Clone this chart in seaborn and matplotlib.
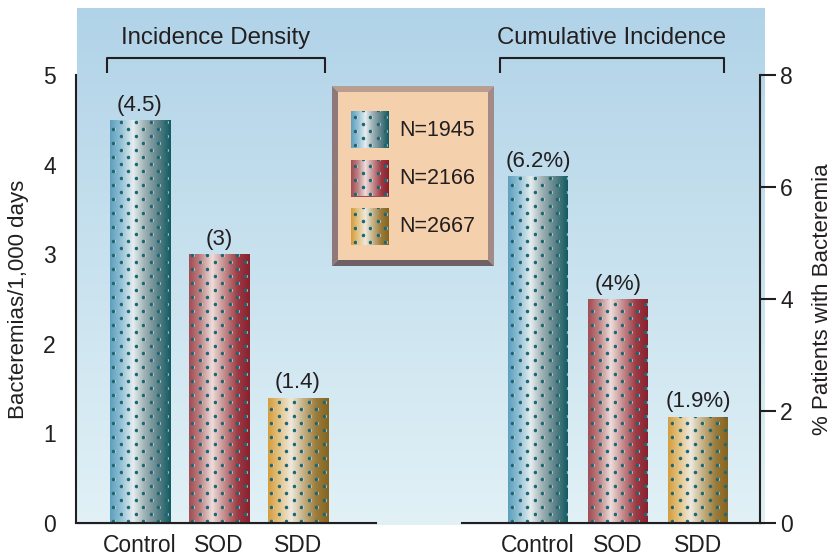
import numpy as np
import pandas as pd
import matplotlib
matplotlib.use("Agg")
import matplotlib.pyplot as plt
import seaborn as sns
from matplotlib.colors import LinearSegmentedColormap
from matplotlib.patches import Rectangle, Polygon
from matplotlib.transforms import blended_transform_factory

# ---- data ----
groups = ["Control", "SOD", "SDD"]
density = [4.5, 3.0, 1.4]
density_labels = ["(4.5)", "(3)", "(1.4)"]
cumulative = [6.2, 4.0, 1.9]
cumulative_labels = ["(6.2%)", "(4%)", "(1.9%)"]
cohort_sizes = ["N=1945", "N=2166", "N=2667"]
density_ticks = [0, 1, 2, 3, 4, 5]
cumulative_ticks = [0, 2, 4, 6, 8]

W, H, DPI = 832, 559, 100
INK = "#231f20"

sns.set_theme(style="white")
plt.rcParams["font.family"] = ["Liberation Sans", "DejaVu Sans"]
plt.rcParams["text.color"] = INK
plt.rcParams["axes.labelcolor"] = INK
plt.rcParams["xtick.color"] = INK
plt.rcParams["ytick.color"] = INK

# cylinder-style shading for each group
shades = {
    "Control": ["#5d9ebd", "#8fbed3", "#e4edf0", "#a3b4b7", "#587f86", "#125a61"],
    "SOD": ["#a34b52", "#bb7e80", "#eddcda", "#c99495", "#9d3b45", "#86202d"],
    "SDD": ["#d69c3b", "#e3c07d", "#eee9dd", "#c9b68d", "#9b7b3a", "#856420"],
}
stops = [0.0, 0.17, 0.38, 0.56, 0.8, 1.0]
cmaps = {g: LinearSegmentedColormap.from_list(g, list(zip(stops, c))) for g, c in shades.items()}
base_colors = {g: c[0] for g, c in shades.items()}
DOT = "#1b6670"


def px_rect(x0, y0, x1, y1):
    """Pixel box (origin top-left) -> figure fraction rect."""
    return [x0 / W, 1 - y1 / H, (x1 - x0) / W, (y1 - y0) / H]


def dress(ax, patch, cmap):
    """Fill a rectangle with a horizontal cylinder gradient and a dot lattice."""
    x0, y0 = patch.get_x(), patch.get_y()
    w, h = patch.get_width(), patch.get_height()
    z = patch.get_zorder()
    im = ax.imshow(np.linspace(0, 1, 256).reshape(1, -1), cmap=cmap, aspect="auto",
                   extent=[x0, x0 + w, y0, y0 + h], interpolation="nearest", zorder=z + 0.1)
    im.set_clip_path(patch)
    (ax0, ay0), (ax1_, ay1) = ax.transData.transform([[x0, y0], [x0 + w, y0 + h]])
    xmin, xmax = sorted([ax0, ax1_])
    ymin, ymax = sorted([ay0, ay1])
    # lattice anchored to whole pixels so every dot rasterises identically
    xmin, ymin = np.floor(xmin), np.floor(ymin)
    pts = []
    row = 0
    y = ymin + 3.2
    while y < ymax + 4:
        x = xmin + (4.2 if row % 2 == 0 else 11.7)
        while x < xmax + 4:
            pts.append((x, y))
            x += 15
        y += 7
        row += 1
    pts = np.array(pts)
    inv = ax.transData.inverted()
    hl = inv.transform(pts + np.array([0.8, -0.5]))
    dp = inv.transform(pts)
    s1 = ax.scatter(hl[:, 0], hl[:, 1], s=5.0, color="#eef3f3", alpha=0.8,
                    linewidths=0, zorder=z + 0.2)
    s2 = ax.scatter(dp[:, 0], dp[:, 1], s=6.5, color=DOT, linewidths=0, zorder=z + 0.3)
    for s in (s1, s2):
        s.set_clip_path(patch)
        s.set_snap(False)


fig = plt.figure(figsize=(W / DPI, H / DPI), dpi=DPI)
fig.patch.set_facecolor("white")

# sky gradient panel
bg = fig.add_axes(px_rect(77, 8, 765, 525), zorder=0)
bg.imshow(np.linspace(0, 1, 256).reshape(-1, 1), aspect="auto", origin="upper",
          cmap=LinearSegmentedColormap.from_list("sky", ["#b1d3e8", "#e1f1f6"]),
          extent=[0, 1, 0, 1])
bg.axis("off")

ax1 = fig.add_axes(px_rect(76, 75, 376, 523), zorder=2)
ax2 = fig.add_axes(px_rect(462, 75, 760, 523), zorder=2)

panels = [
    (ax1, density, density_labels, density_ticks, 0.76, (-0.81, 2.987), (0, 5),
     "Incidence Density", (-0.42, 2.34)),
    (ax2, cumulative, cumulative_labels, cumulative_ticks, 0.75, (-0.95, 2.775), (0, 8),
     "Cumulative Incidence", (-0.475, 2.325)),
]

for ax, vals, labs, ticks, width, xlim, ylim, title, span in panels:
    df = pd.DataFrame({"group": groups, "value": vals})
    sns.barplot(data=df, x="group", y="value", hue="group", palette=base_colors,
                width=width, saturation=1, legend=False, ax=ax)
    ax.set_xlim(*xlim)
    ax.set_ylim(*ylim)
    ax.set_autoscale_on(False)
    ax.patch.set_alpha(0)
    ax.set_xlabel("")
    ax.set_yticks(ticks)
    ax.tick_params(axis="y", length=11.5, width=1.5, direction="out", labelsize=16.5, pad=3)
    ax.tick_params(axis="x", length=0, labelsize=16.5, pad=8)
    for s in ax.spines.values():
        s.set_linewidth(1.5)
        s.set_color(INK)
    ax.spines["top"].set_visible(False)

    bars = ax.patches[:len(groups)]
    for g, p, lab in zip(groups, bars, labs):
        p.set_linewidth(0)
        dress(ax, p, cmaps[g])
        ax.annotate(lab, (p.get_x() + p.get_width() / 2, p.get_height()),
                    xytext=(0, 3), textcoords="offset points",
                    ha="center", va="bottom", fontsize=16, color=INK)

    # group bracket with heading
    tr = blended_transform_factory(ax.transData, ax.transAxes)
    ax.plot([span[0], span[0], span[1], span[1]], [1.0045, 1.038, 1.038, 1.0045],
            color=INK, lw=1.5, transform=tr, clip_on=False, solid_capstyle="butt")
    ax.text((span[0] + span[1]) / 2, 1.082, title, transform=tr, ha="center",
            va="center", fontsize=17.3, color=INK)

ax1.spines["right"].set_visible(False)
ax1.set_ylabel("Bacteremias/1,000 days", fontsize=16, labelpad=10)
ax2.spines["left"].set_visible(False)
ax2.yaxis.tick_right()
ax2.yaxis.set_label_position("right")
ax2.set_ylabel("% Patients with Bacteremia", fontsize=16, labelpad=14)

# legend plaque with bevelled frame
lg = fig.add_axes(px_rect(332, 86, 494, 266), zorder=5)
lg.set_xlim(0, 162)
lg.set_ylim(180, 0)
lg.set_autoscale_on(False)
lg.axis("off")
b = 6
Wl, Hl = 162, 180
lg.add_patch(Polygon([[0, 0], [Wl, 0], [Wl - b, b], [b, b]], closed=True, fc="#b89e90", lw=0))
lg.add_patch(Polygon([[0, 0], [b, b], [b, Hl - b], [0, Hl]], closed=True, fc="#8e7879", lw=0))
lg.add_patch(Polygon([[Wl, 0], [Wl, Hl], [Wl - b, Hl - b], [Wl - b, b]], closed=True, fc="#a38a86", lw=0))
lg.add_patch(Polygon([[0, Hl], [b, Hl - b], [Wl - b, Hl - b], [Wl, Hl]], closed=True, fc="#6e6064", lw=0))
lg.add_patch(Rectangle((b, b), Wl - 2 * b, Hl - 2 * b, fc="#f5d0ac", lw=0))

for i, (g, n) in enumerate(zip(groups, cohort_sizes)):
    top = 25 + i * 48.5
    sw = Rectangle((19, top), 38, 37, fc=base_colors[g], lw=0, zorder=2)
    lg.add_patch(sw)
    dress(lg, sw, cmaps[g])
    lg.text(67, top + 19, n, ha="left", va="center", fontsize=15.5, color=INK)

fig.savefig("out.png", dpi=DPI, facecolor="white")
